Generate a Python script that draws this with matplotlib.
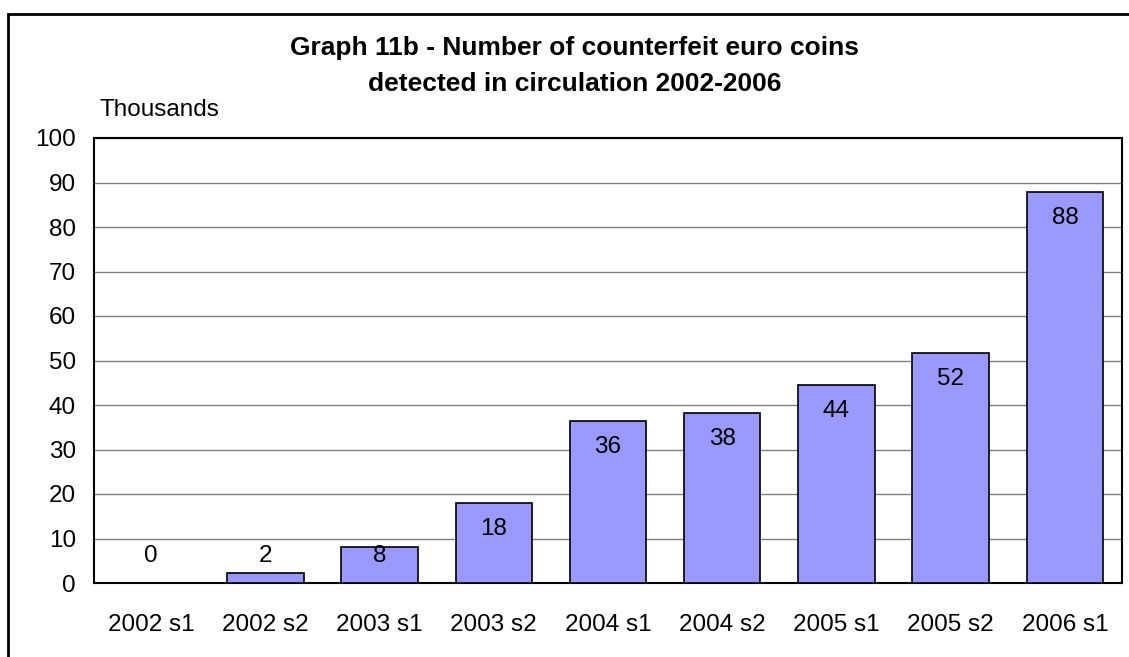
import matplotlib.pyplot as plt
from matplotlib.patches import Rectangle

# data (thousands of coins)
periods = ["2002 s1", "2002 s2", "2003 s1", "2003 s2", "2004 s1",
           "2004 s2", "2005 s1", "2005 s2", "2006 s1"]
counts = [0, 2.2, 8.1, 18.0, 36.4, 38.2, 44.4, 51.7, 87.8]
shown = ["0", "2", "8", "18", "36", "38", "44", "52", "88"]

plt.rcParams['font.family'] = ['Liberation Sans', 'DejaVu Sans']

fig = plt.figure(figsize=(11.29, 6.57), dpi=100)
ax = fig.add_axes([94 / 1129, 1 - 583 / 657, (1122 - 94) / 1129, (583 - 138) / 657])

# outer frame (cut at right and bottom, as in the source)
fig.add_artist(Rectangle((8 / 1129, -0.05), 1.2, 1 - 14 / 657 + 0.05,
                         transform=fig.transFigure, fill=False,
                         edgecolor='black', linewidth=2))

x = range(len(periods))
ax.bar(x, counts, width=0.67, color='#9999ff', edgecolor='black',
       linewidth=1.2, zorder=3)

for i, (v, s) in enumerate(zip(counts, shown)):
    y = max(v - 5.8, 6.0)
    ax.text(i, y, s, ha='center', va='center', fontsize=17.5, zorder=4)

ax.set_xlim(-0.5, len(periods) - 0.5)
ax.set_ylim(0, 100)
ax.set_yticks(range(0, 101, 10))
ax.set_xticks(list(x))
ax.set_xticklabels(periods)
ax.tick_params(axis='both', length=0, labelsize=17.5)
ax.tick_params(axis='x', pad=22)
ax.tick_params(axis='y', pad=13)
ax.yaxis.grid(True, color='#808080', linewidth=1, zorder=0)
ax.set_axisbelow(True)
for sp in ax.spines.values():
    sp.set_linewidth(1.5)
    sp.set_color('black')

fig.text(575 / 1129, 1 - 48 / 657, "Graph 11b - Number of counterfeit euro coins",
         ha='center', va='center', fontsize=19, fontweight='bold')
fig.text(575 / 1129, 1 - 84 / 657, "detected in circulation 2002-2006",
         ha='center', va='center', fontsize=19, fontweight='bold')
fig.text(100 / 1129, 1 - 110 / 657, "Thousands", ha='left', va='center', fontsize=17.5)

fig.savefig("out.png", dpi=100)
